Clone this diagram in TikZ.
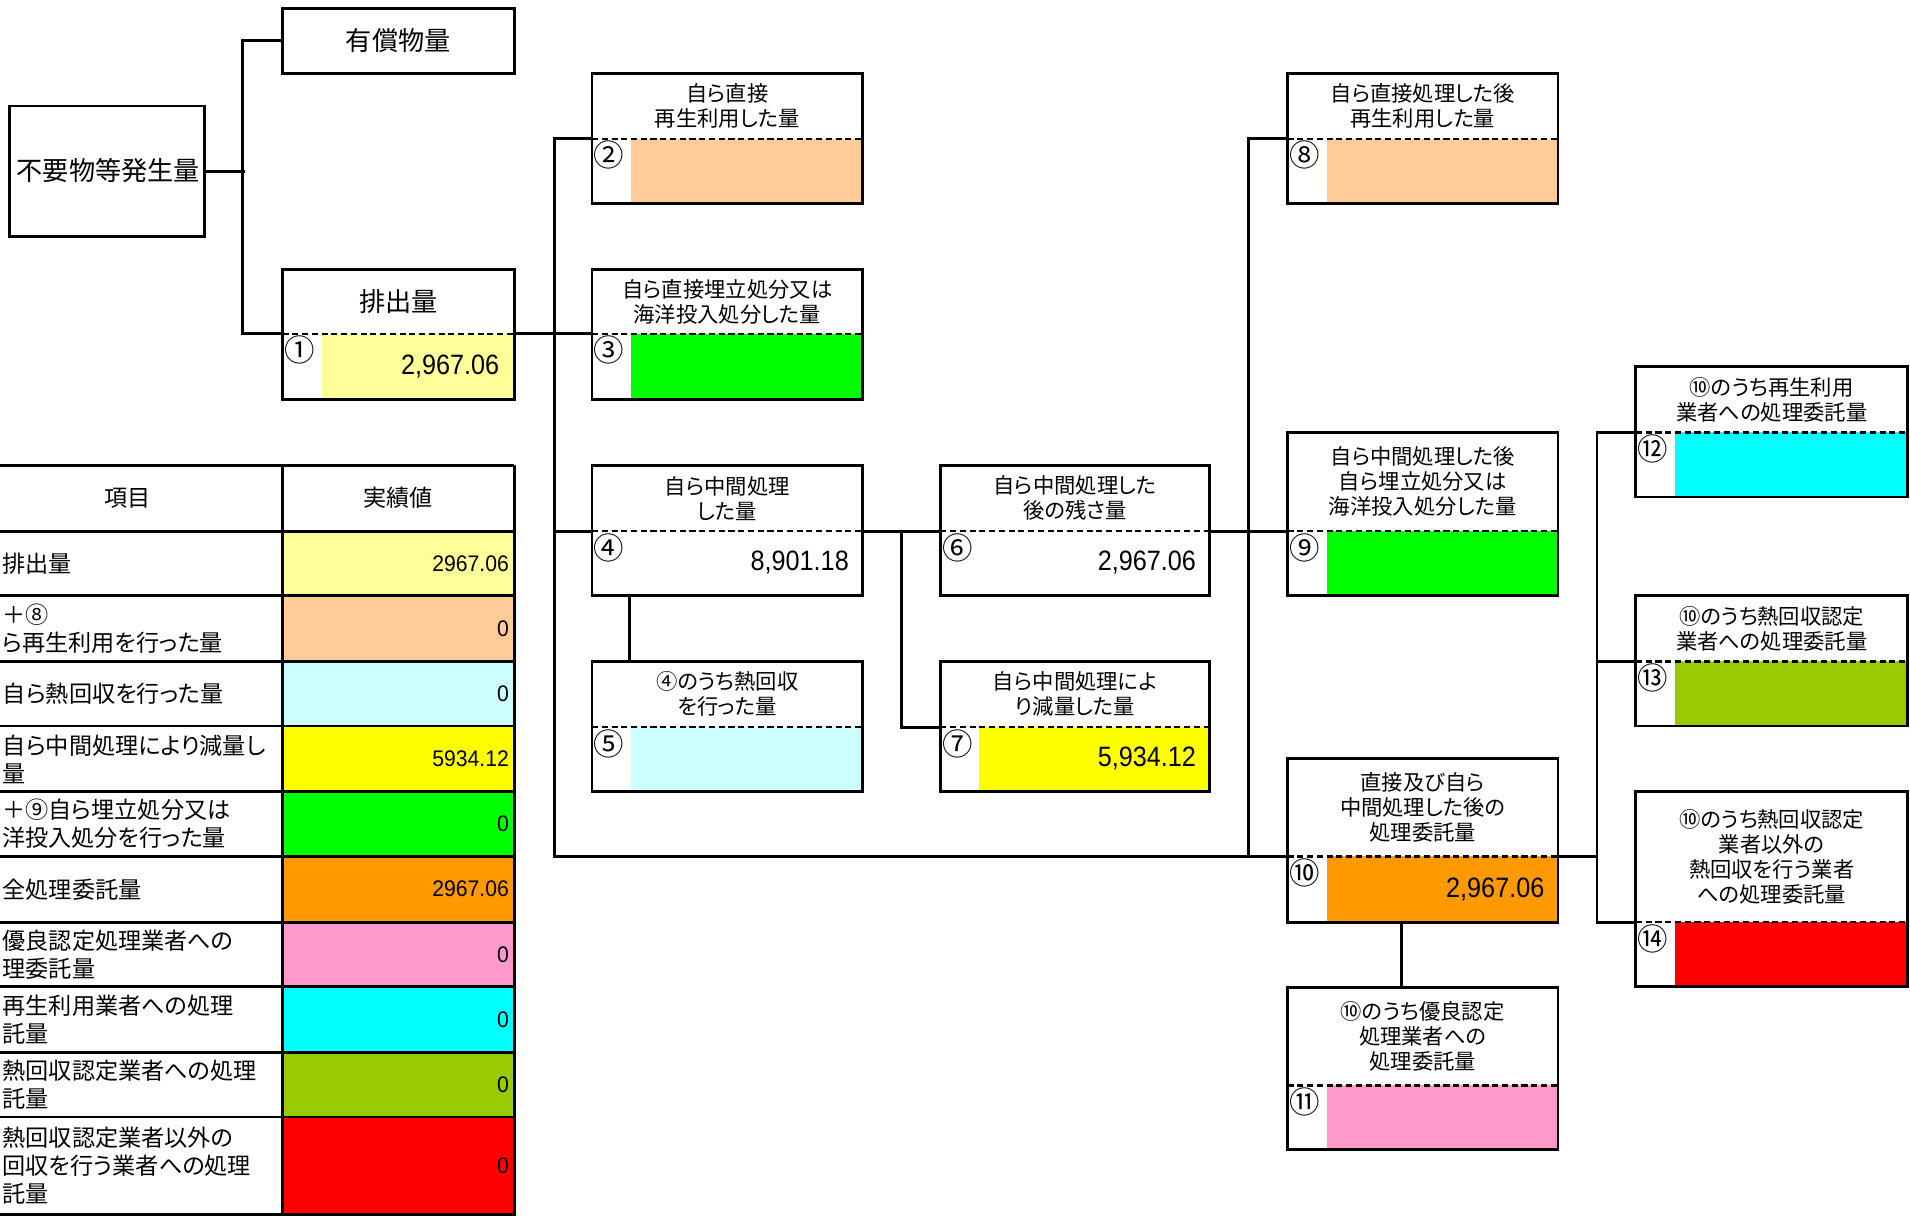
\documentclass[tikz,border=0pt]{standalone}
\usepackage{fontspec}
\setmainfont{Noto Sans CJK JP}[RawFeature=+palt]
\newfontfamily\numfont{Liberation Sans}[FakeStretch=0.9]
\newfontfamily\tnumfont{Liberation Sans}[FakeStretch=0.94]
\usetikzlibrary{fit,calc}
\definecolor{cLY}{HTML}{FFFF99}
\definecolor{cPE}{HTML}{FFCC99}
\definecolor{cGR}{HTML}{00FF00}
\definecolor{cLC}{HTML}{CCFFFF}
\definecolor{cYE}{HTML}{FFFF00}
\definecolor{cOR}{HTML}{FF9900}
\definecolor{cPK}{HTML}{FF99CC}
\definecolor{cCY}{HTML}{00FFFF}
\definecolor{cYG}{HTML}{99CC00}
\definecolor{cRD}{HTML}{FF0000}
\tikzset{
  boxframe/.style={draw=black, line width=2.4pt, inner sep=0pt},
  dashline/.style={draw=black, line width=2pt, dash pattern=on 5pt off 3pt},
  conn/.style={draw=black, line width=2.4pt},
  titletext/.style={align=center, inner sep=0pt, font=\fontsize{17.5}{20.5}\selectfont},
  bigtext/.style={align=center, inner sep=0pt, font=\fontsize{21.5}{24}\selectfont},
  numtext/.style={inner sep=0pt, font=\fontsize{25}{25}\selectfont},
  valtext/.style={anchor=east, inner sep=0pt, font=\numfont\fontsize{23}{23}\selectfont},
  tabtext/.style={anchor=west, align=left, inner sep=0pt, font=\fontsize{19}{23}\selectfont},
  tabhead/.style={inner sep=0pt, font=\fontsize{19}{23}\selectfont},
  tabval/.style={anchor=east, inner sep=0pt, font=\tnumfont\fontsize{18.5}{18.5}\selectfont},
  tabline/.style={draw=black, line width=2.4pt}
}
% first character of a table line, lying mostly beyond the left edge
\newcommand\cutch[1]{\llap{#1\kern3.5pt}}
% #1 name, #2 x1, #3 y1, #4 x2, #5 y2, #6 y of dashed line, #7 fill, #8 number, #9 title
\newcommand\qbox[9]{%
  \fill[#7] ({#2+32},#6) rectangle (#4,#5);
  \node[boxframe, fit={(#2,#3)(#4,#5)}] (#1) {};
  \draw[dashline] (#2,#6) coordinate (#1-l) -- (#4,#6) coordinate (#1-r);
  \node[titletext] (#1-t) at ({(#2+#4)/2},{(#3+#6)/2}) {#9};
  \node[numtext] (#1-n) at ({#2+14},{#6+13.5}) {#8};
}
\begin{document}
\begin{tikzpicture}[x=1pt,y=-1pt]
\useasboundingbox (0,0) rectangle (1568,998);
\fill[white] (0,0) rectangle (1568,998);

% top-left boxes
\node[boxframe, fit={(8,87)(168,194)}] (hassei) {};
\node[bigtext] (hassei-t) at (89,140) {不要物等発生量};
\node[boxframe, fit={(232,7)(422,60)}] (yushou) {};
\node[bigtext] (yushou-t) at (327,33.5) {有償物量};

\qbox{b1}{232}{221}{422}{328}{274}{cLY}{①}{\fontsize{21.5}{24}\selectfont 排出量}
\node[valtext] (b1-v) at (410,301) {2,967.06};

\qbox{b2}{486}{60}{708}{167}{114}{cPE}{②}{自ら直接\\再生利用した量}
\qbox{b3}{486}{221}{708}{328}{274}{cGR}{③}{自ら直接埋立処分又は\\海洋投入処分した量}
\qbox{b4}{486}{382}{708}{489}{436}{white}{④}{自ら中間処理\\した量}
\node[valtext] (b4-v) at (697,462) {8,901.18};
\qbox{b5}{486}{543}{708}{650}{597}{cLC}{⑤}{④のうち熱回収\\を行った量}
\qbox{b6}{772}{382}{993}{489}{436}{white}{⑥}{自ら中間処理した\\後の残さ量}
\node[valtext] (b6-v) at (982,462) {2,967.06};
\qbox{b7}{772}{543}{993}{650}{597}{cYE}{⑦}{自ら中間処理によ\\り減量した量}
\node[valtext] (b7-v) at (982,623) {5,934.12};
\qbox{b8}{1057}{60}{1279}{167}{114}{cPE}{⑧}{自ら直接処理した後\\再生利用した量}
\qbox{b9}{1057}{355}{1279}{489}{436}{cGR}{⑨}{自ら中間処理した後\\自ら埋立処分又は\\海洋投入処分した量}
\qbox{b10}{1057}{623}{1279}{757}{703}{cOR}{⑩}{直接及び自ら\\中間処理した後の\\処理委託量}
\node[valtext] (b10-v) at (1268,730) {2,967.06};
\qbox{b11}{1057}{811}{1279}{944}{891}{cPK}{⑪}{⑩のうち優良認定\\処理業者への\\処理委託量}
\qbox{b12}{1343}{301}{1566}{408}{355}{cCY}{⑫}{⑩のうち再生利用\\業者への処理委託量}
\qbox{b13}{1343}{489}{1566}{596}{543}{cYG}{⑬}{⑩のうち熱回収認定\\業者への処理委託量}
\qbox{b14}{1343}{650}{1566}{810}{757}{cRD}{⑭}{⑩のうち熱回収認定\\業者以外の\\熱回収を行う業者\\への処理委託量}

% connectors
\draw[conn] (hassei.east) -- ++(32,0);
\draw[conn] (yushou.west) -- ++(-32,0) |- (b1-l);
\draw[conn] (b1-r) -- (b3-l);
\draw[conn] (b2-l) -- ++(-31,0) |- (b10-l);
\draw[conn] (b4-l) -- ++(-31,0);
\draw[conn] (b4-r) -- (b6-l);
\draw[conn] ($(b4.south west)+(32,0)$) -- ($(b5.north west)+(32,0)$);
\draw[conn] (b7-l) -- ++(-32,0) |- (b6-l);
\draw[conn] (b6-r) -- (b9-l);
\draw[conn] (b8-l) -- ++(-32,0) |- (b10-l);
\draw[conn] ($(b10.south west)+(95,0)$) -- ($(b11.north west)+(95,0)$);
\draw[conn] (b10-r) -- ++(32,0);
\draw[conn] (b12-l) -- ++(-32,0) |- (b14-l);
\draw[conn] (b13-l) -- ++(-32,0);

% table
\fill[cLY] (232,436) rectangle (422,489);
\fill[cPE] (232,489) rectangle (422,543);
\fill[cLC] (232,543) rectangle (422,596);
\fill[cYE] (232,596) rectangle (422,650);
\fill[cGR] (232,650) rectangle (422,703);
\fill[cOR] (232,703) rectangle (422,757);
\fill[cPK] (232,757) rectangle (422,810);
\fill[cCY] (232,810) rectangle (422,864);
\fill[cYG] (232,864) rectangle (422,917);
\fill[cRD] (232,917) rectangle (422,998);
\foreach \yy in {382,436,489,543,596,650,703,757,810,864,917,997}
  \draw[tabline] (-5,\yy) -- (422,\yy);
\draw[tabline] (232,382) -- (232,1000);
\draw[tabline] (422,382) -- (422,1000);

\node[tabhead] (th1) at (105,409) {項目};
\node[tabhead] (th2) at (327,409) {実績値};
\begin{scope}
\clip (0,380) rectangle (231,1000);
\node[tabtext] (r1) at (2,462.5) {\cutch{①}排出量};
\node[tabtext] (r2) at (1.5,516) {\cutch{②}＋⑧\\\cutch{自}ら再生利用を行った量};
\node[tabtext] (r3) at (2,569.5) {\cutch{⑤}自ら熱回収を行った量};
\node[tabtext] (r4) at (2,623) {\cutch{⑦}自ら中間処理により減量し\\\cutch{た}量};
\node[tabtext] (r5) at (1.5,676.5) {\cutch{③}＋⑨自ら埋立処分又は\\\cutch{海}洋投入処分を行った量};
\node[tabtext] (r6) at (2,730) {\cutch{⑩}全処理委託量};
\node[tabtext] (r7) at (2,783.5) {\cutch{⑪}優良認定処理業者への\\\cutch{処}理委託量};
\node[tabtext] (r8) at (2,837) {\cutch{⑫}再生利用業者への処理\\\cutch{委}託量};
\node[tabtext] (r9) at (2,890.5) {\cutch{⑬}熱回収認定業者への処理\\\cutch{委}託量};
\node[tabtext] (r10) at (2,957) {\cutch{⑭}熱回収認定業者以外の\\\cutch{熱}回収を行う業者への処理\\\cutch{委}託量};
\end{scope}
\node[tabval] (v1) at (418,462.5) {2967.06};
\node[tabval] (v2) at (418,516) {0};
\node[tabval] (v3) at (418,569.5) {0};
\node[tabval] (v4) at (418,623) {5934.12};
\node[tabval] (v5) at (418,676.5) {0};
\node[tabval] (v6) at (418,730) {2967.06};
\node[tabval] (v7) at (418,783.5) {0};
\node[tabval] (v8) at (418,837) {0};
\node[tabval] (v9) at (418,890.5) {0};
\node[tabval] (v10) at (418,957) {0};
\end{tikzpicture}
\end{document}
